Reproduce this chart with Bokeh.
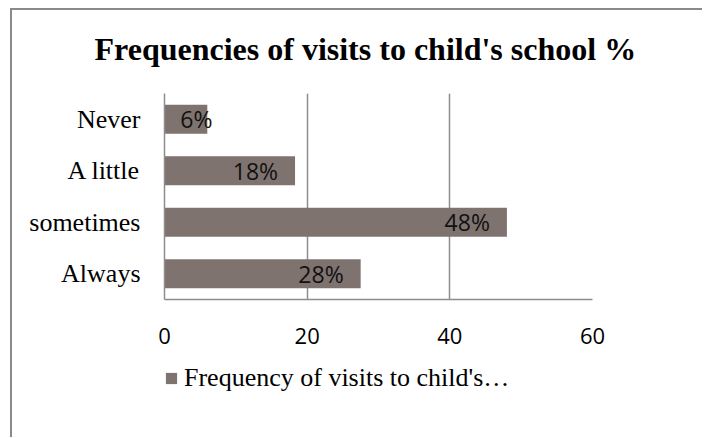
from bokeh.plotting import figure
from bokeh.layouts import column
from bokeh.models import (ColumnDataSource, FactorRange, Range1d, FixedTicker,
                          Legend, LegendItem, Title)
from bokeh.core.properties import value
from bokeh.embed import file_html
from bokeh.resources import INLINE

# ---- data ----
categories = ["Always", "sometimes", "A little", "Never"]   # bottom -> top
values = [27.5, 48.0, 18.3, 6.0]
labels = ["28%", "48%", "18%", "6%"]
x_ticks = [0, 20, 40, 60]
title_text = "Frequencies of visits to child's school %"
series_name = "Frequency of visits to child's\u2026"

BAR = "#7f7370"
GRID = "#8c8c8c"

# labels sit inside the bar end; short bars push the label a bit to the right
label_x = [max(v, 9.1) for v in values]

src = ColumnDataSource(dict(cat=categories, val=values, lab=labels, lx=label_x))

p = figure(frame_width=428, frame_height=206, output_backend="svg", toolbar_location=None,
           y_range=FactorRange(factors=categories, range_padding=0),
           x_range=Range1d(0, 60),
           min_border_left=152, min_border_right=110,
           min_border_top=83, min_border_bottom=64)
p.title = None
p.outline_line_color = None
p.background_fill_color = "white"
p.border_fill_color = "white"

# title (a thin spacer keeps it a fixed distance above the plot area)
p.add_layout(Title(text=" ", text_font_size="1px", standoff=24), "above")
p.add_layout(Title(text=title_text, text_font="Liberation Serif",
                   text_font_style="bold", text_font_size="32px",
                   text_color="black", align="left", offset=-70, standoff=0),
             "above")

bars = p.hbar(y="cat", right="val", left=0, height=0.56, source=src,
              fill_color=BAR, line_color=None)

p.text(x="lx", y="cat", text="lab", source=src, x_offset=-17,
       text_align="right", text_baseline="middle",
       text_font=value("Open Sans"), text_font_size="23px", text_color="#111111")

# axes
p.xaxis.ticker = FixedTicker(ticks=x_ticks)
p.xaxis.major_label_text_font = "Open Sans"
p.xaxis.major_label_text_font_size = "22px"
p.xaxis.major_label_text_color = "black"
p.xaxis.major_label_standoff = 28
p.xaxis.major_tick_out = 0
p.xaxis.major_tick_in = 0
p.xaxis.minor_tick_out = 0
p.xaxis.minor_tick_in = 0
p.xaxis.axis_line_color = GRID
p.xaxis.axis_line_width = 1.5

p.yaxis.major_label_text_font = "Liberation Serif"
p.yaxis.major_label_text_font_size = "26px"
p.yaxis.major_label_text_color = "black"
p.yaxis.major_label_standoff = 24
p.yaxis.major_tick_out = 0
p.yaxis.major_tick_in = 0
p.yaxis.axis_line_color = GRID
p.yaxis.axis_line_width = 1.5

p.ygrid.visible = False
p.xgrid.ticker = FixedTicker(ticks=x_ticks)
p.xgrid.grid_line_color = GRID
p.xgrid.grid_line_width = 1.5

# legend strip below the chart (the series is repeated there, hidden, to feed the legend)
q = figure(frame_width=500, frame_height=74, output_backend="svg", toolbar_location=None,
           x_range=Range1d(0, 60), y_range=FactorRange(factors=categories),
           x_axis_location=None, y_axis_location=None,
           min_border_left=152, min_border_right=38,
           min_border_top=0, min_border_bottom=0)
q.title = None
q.outline_line_color = None
q.grid.visible = False
q.border_fill_color = "white"
swatch = q.hbar(y="cat", right="val", left=0, height=0.56, source=src,
                fill_color=BAR, line_color=None, visible=False)

legend = Legend(items=[LegendItem(label=series_name, renderers=[swatch])],
                location="top_left", orientation="horizontal",
                glyph_width=14, glyph_height=14, label_standoff=6,
                padding=2, margin=0, spacing=0,
                label_text_font="Liberation Serif", label_text_font_size="26px",
                label_text_color="black",
                inactive_fill_alpha=0,
                border_line_color=None, background_fill_alpha=0)
q.add_layout(legend, "center")

page = column(p, q, spacing=0,
              styles={"border-left": "2px solid #8a8a8a", "border-top": "2px solid #8a8a8a",
                      "margin-left": "10px", "margin-top": "8px"})

open("out.html", "w").write(file_html(page, INLINE))
